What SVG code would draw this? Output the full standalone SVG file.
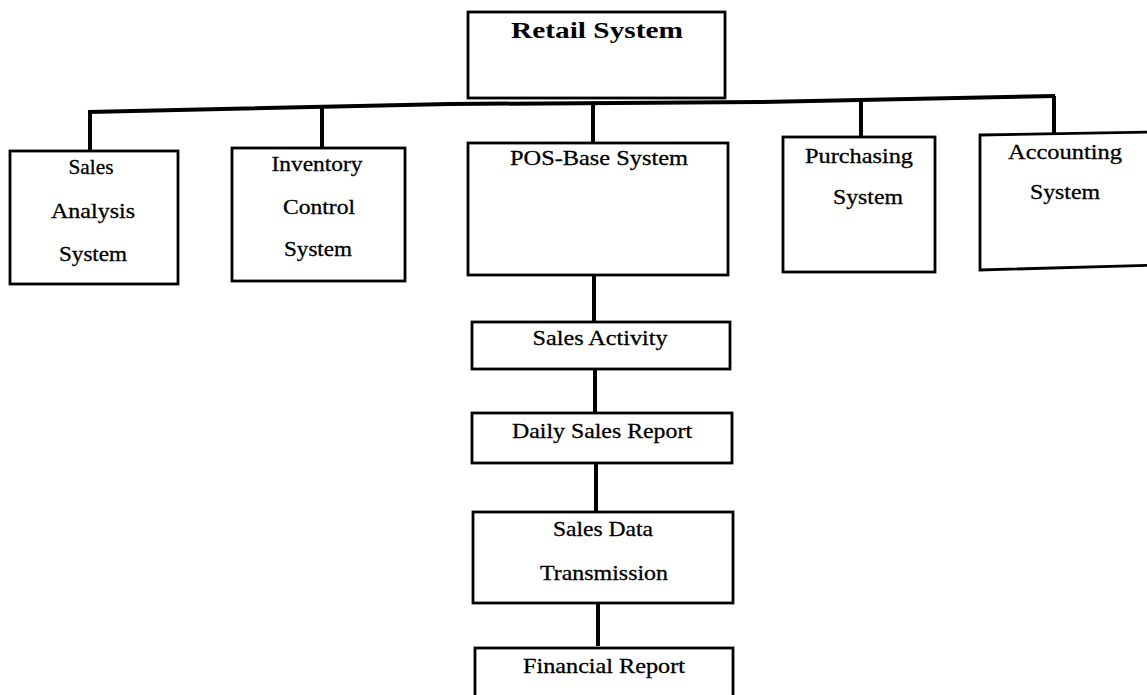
<svg xmlns="http://www.w3.org/2000/svg" width="1147" height="695" viewBox="0 0 1147 695">
<style>
.box{fill:#fff;stroke:#000;stroke-width:2.8}
.con{fill:none;stroke:#000;stroke-width:4;stroke-linejoin:miter}
.t{font-family:"Liberation Serif","Times New Roman",serif;font-size:21px;fill:#000;stroke:#000;stroke-width:0.3;text-anchor:middle}
.tb{font-family:"Liberation Serif","Times New Roman",serif;font-size:24px;font-weight:bold;fill:#000;text-anchor:middle}
</style>
<rect width="1147" height="695" fill="#fff"/>
<g id="connectors">
<path class="con" d="M88,112 L450,104 L760,102 L1055,96"/>
<path class="con" d="M90,111 V151"/>
<path class="con" d="M322,106 V148"/>
<path class="con" d="M593,103 V148"/>
<path class="con" d="M861,101 V148"/>
<path class="con" d="M1054,96 V140"/>
<path class="con" d="M594,275 V322"/>
<path class="con" d="M595,369 V413"/>
<path class="con" d="M596,463 V512"/>
<path class="con" d="M598,603 V646"/>
</g>
<g id="retail">
<rect class="box" x="468" y="12" width="257" height="86"/>
<text class="tb" x="597" y="38" textLength="172" lengthAdjust="spacingAndGlyphs">Retail System</text>
</g>
<g id="sales-analysis">
<rect class="box" x="10" y="151" width="168" height="133"/>
<text class="t" x="91" y="174" textLength="45" lengthAdjust="spacingAndGlyphs">Sales</text>
<text class="t" x="93" y="218" textLength="84" lengthAdjust="spacingAndGlyphs">Analysis</text>
<text class="t" x="93" y="261" textLength="68" lengthAdjust="spacingAndGlyphs">System</text>
</g>
<g id="inventory">
<rect class="box" x="232" y="148" width="173" height="133"/>
<text class="t" x="317" y="171" textLength="91" lengthAdjust="spacingAndGlyphs">Inventory</text>
<text class="t" x="319" y="214" textLength="72" lengthAdjust="spacingAndGlyphs">Control</text>
<text class="t" x="318" y="256" textLength="68" lengthAdjust="spacingAndGlyphs">System</text>
</g>
<g id="pos">
<rect class="box" x="468" y="143" width="260" height="132"/>
<text class="t" x="599" y="165" textLength="178" lengthAdjust="spacingAndGlyphs">POS-Base System</text>
</g>
<g id="purchasing">
<rect class="box" x="783" y="137" width="152" height="135"/>
<text class="t" x="859" y="163" textLength="108" lengthAdjust="spacingAndGlyphs">Purchasing</text>
<text class="t" x="868" y="204" textLength="70" lengthAdjust="spacingAndGlyphs">System</text>
</g>
<g id="accounting">
<polygon class="box" points="980,135 1160,132 1160,265 980,270"/>
<text class="t" x="1065" y="159" textLength="114" lengthAdjust="spacingAndGlyphs">Accounting</text>
<text class="t" x="1065" y="199" textLength="70" lengthAdjust="spacingAndGlyphs">System</text>
</g>
<g id="sales-activity">
<rect class="box" x="472" y="322" width="258" height="47"/>
<text class="t" x="600" y="345" textLength="135" lengthAdjust="spacingAndGlyphs">Sales Activity</text>
</g>
<g id="daily-sales-report">
<rect class="box" x="472" y="413" width="260" height="50"/>
<text class="t" x="602" y="438" textLength="180" lengthAdjust="spacingAndGlyphs">Daily Sales Report</text>
</g>
<g id="sales-data-transmission">
<rect class="box" x="473" y="512" width="260" height="91"/>
<text class="t" x="603" y="536" textLength="100" lengthAdjust="spacingAndGlyphs">Sales Data</text>
<text class="t" x="604" y="580" textLength="128" lengthAdjust="spacingAndGlyphs">Transmission</text>
</g>
<g id="financial-report">
<rect class="box" x="475" y="648" width="258" height="60"/>
<text class="t" x="604" y="673" textLength="162" lengthAdjust="spacingAndGlyphs">Financial Report</text>
</g>
</svg>
